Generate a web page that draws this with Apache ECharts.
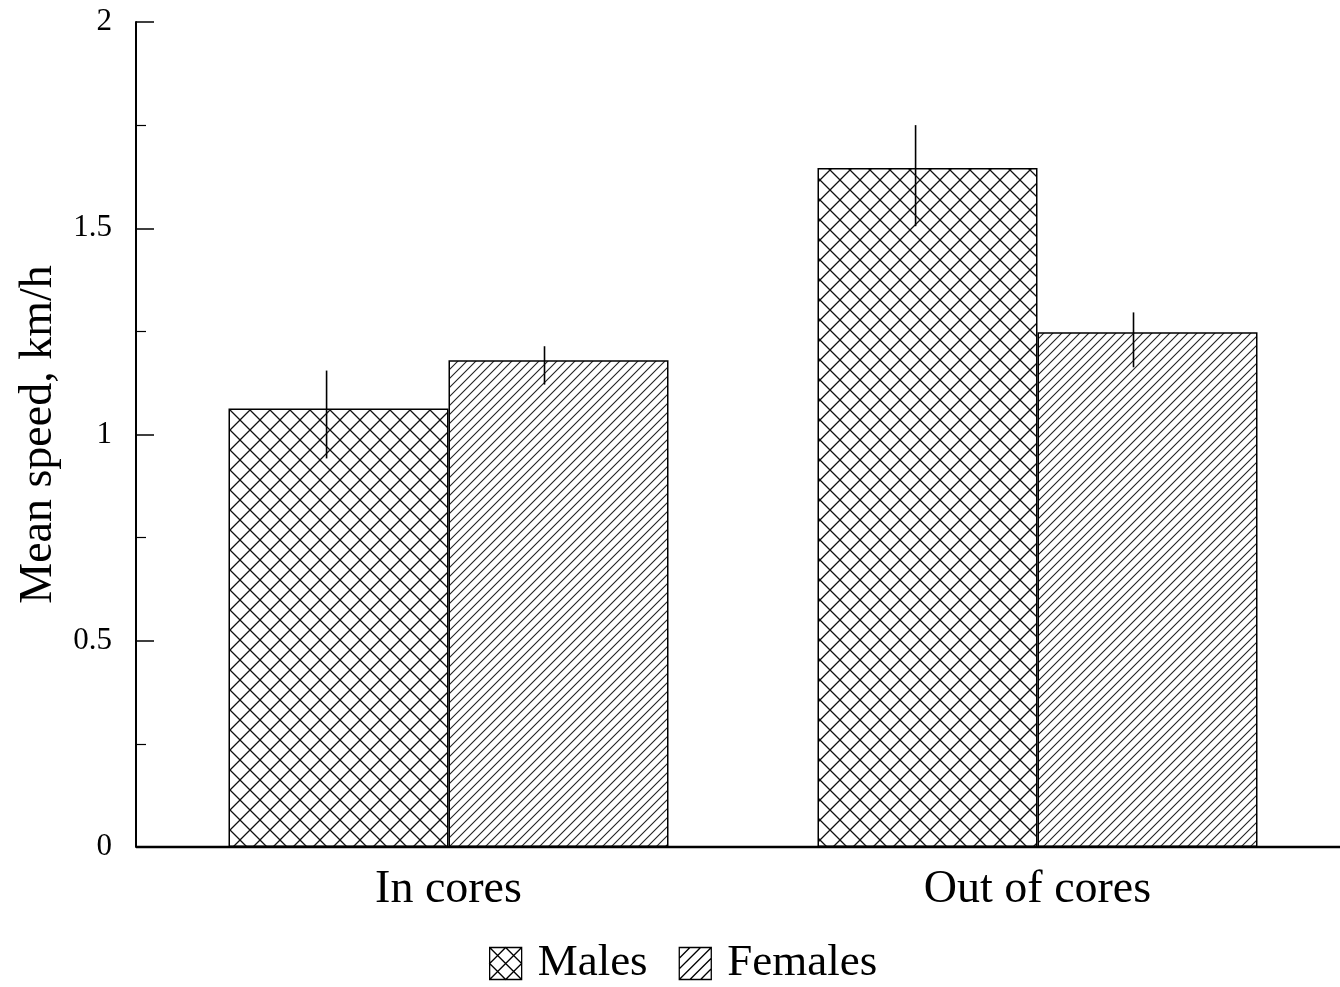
<!DOCTYPE html>
<html>
<head>
<meta charset="utf-8">
<script src="https://cdn.jsdelivr.net/npm/echarts@6/dist/echarts.min.js"></script>
<style>
html,body{margin:0;padding:0;background:#fff;}
#chart{width:1340px;height:987px;}
</style>
</head>
<body>
<div id="chart"></div>
<script>
// ---- data ----
var categories = ['In cores', 'Out of cores'];
var seriesNames = ['Males', 'Females'];
var malesValues = [1.063, 1.646];
var femalesValues = [1.180, 1.248];
var malesErrLow = [0.942, 1.505];
var malesErrHigh = [1.155, 1.750];
var femalesErrLow = [1.121, 1.163];
var femalesErrHigh = [1.214, 1.296];
var yTicks = [0, 0.5, 1, 1.5, 2];

// ---- patterns ----
function crossPattern(p, lw) {
  var c = document.createElement('canvas');
  c.width = p; c.height = p;
  var g = c.getContext('2d');
  g.fillStyle = '#fff'; g.fillRect(0, 0, p, p);
  g.strokeStyle = '#111'; g.lineWidth = lw;
  g.beginPath();
  g.moveTo(0, 0); g.lineTo(p, p);
  g.moveTo(0, p); g.lineTo(p, 0);
  g.stroke();
  return {image: c, repeat: 'repeat'};
}
function diagPattern(p, lw) {
  var c = document.createElement('canvas');
  c.width = p; c.height = p;
  var g = c.getContext('2d');
  g.fillStyle = '#fff'; g.fillRect(0, 0, p, p);
  g.strokeStyle = '#222'; g.lineWidth = lw;
  g.beginPath();
  g.moveTo(-1, p + 1); g.lineTo(p + 1, -1);
  g.moveTo(-1, 1); g.lineTo(1, -1);
  g.moveTo(p - 1, p + 1); g.lineTo(p + 1, p - 1);
  g.stroke();
  return {image: c, repeat: 'repeat'};
}

var malesPat = crossPattern(20, 1.3);
var femalesPat = diagPattern(9, 1.1);

var malesIcon = 'path://M0,0H32V32H0Z M0,0L32,32 M32,0L0,32 M16,0L32,16L16,32L0,16Z';
var femalesIcon = 'path://M0,0H32V32H0Z M0,10.67L10.67,0 M0,21.33L21.33,0 M0,32L32,0 M10.67,32L32,10.67 M21.33,32L32,21.33';

var font = 'Liberation Serif';

function errSeries(low, high, frac) {
  return {
    type: 'custom',
    name: 'err',
    z: 10,
    silent: true,
    encode: {x: 0, y: [1, 2]},
    data: categories.map(function (c, i) { return [i, low[i], high[i]]; }),
    renderItem: function (params, api) {
      var lo = api.coord([api.value(0), api.value(1)]);
      var hi = api.coord([api.value(0), api.value(2)]);
      var band = api.size([1, 0])[0];
      var x = lo[0] + frac * band;
      return {
        type: 'line',
        shape: {x1: x, y1: lo[1], x2: x, y2: hi[1]},
        style: {stroke: '#000', lineWidth: 1.6}
      };
    }
  };
}

var chart = echarts.init(document.getElementById('chart'), null, {renderer: 'canvas'});
var option = {
  backgroundColor: '#fff',
  animation: false,
  grid: {left: 154, right: 8, top: 22, bottom: 140, containLabel: false},
  legend: {
    left: 484, top: 936,
    itemWidth: 32, itemHeight: 32, itemGap: 31,
    textStyle: {fontFamily: font, fontSize: 45, color: '#000', padding: [0, 0, 0, 11]},
    data: [
      {name: 'Males', icon: malesIcon, itemStyle: {color: '#fff', borderColor: '#000', borderWidth: 1.3}},
      {name: 'Females', icon: femalesIcon, itemStyle: {color: '#fff', borderColor: '#000', borderWidth: 1.3}}
    ]
  },
  xAxis: {
    type: 'category',
    data: categories,
    axisLine: {show: false},
    axisTick: {show: false},
    axisLabel: {fontFamily: font, fontSize: 46, color: '#000', margin: 20},
    splitLine: {show: false}
  },
  yAxis: {
    type: 'value',
    min: 0, max: 2, interval: 0.5,
    offset: 18,
    name: 'Mean speed, km/h',
    nameLocation: 'middle',
    nameGap: 74,
    nameTextStyle: {fontFamily: font, fontSize: 46, color: '#000'},
    axisLine: {show: true, lineStyle: {color: '#000', width: 2}},
    axisTick: {show: true, inside: true, length: 18, lineStyle: {color: '#000', width: 1.5}},
    minorTick: {show: true, splitNumber: 2, length: 10, lineStyle: {color: '#000', width: 1.2}},
    axisLabel: {
      fontFamily: font, fontSize: 31, color: '#000', margin: 24,
      formatter: function (v) { return yTicks.indexOf(v) >= 0 ? String(v) : ''; }
    },
    splitLine: {show: false}
  },
  series: [
    {
      name: 'Males', type: 'bar', data: malesValues,
      barWidth: 220, barGap: '0%',
      itemStyle: {color: malesPat, borderColor: '#000', borderWidth: 1.5}
    },
    {
      name: 'Females', type: 'bar', data: femalesValues,
      barWidth: 220, barGap: '0%',
      itemStyle: {color: femalesPat, borderColor: '#000', borderWidth: 1.5}
    },
    errSeries(malesErrLow, malesErrHigh, -0.207),
    errSeries(femalesErrLow, femalesErrHigh, 0.163)
  ]
};
chart.setOption(option);

// baseline (x axis line) spanning from the y-axis to the right edge
var y0 = chart.convertToPixel({yAxisIndex: 0}, 0);
chart.setOption({
  graphic: [{
    type: 'line', z: 20,
    shape: {x1: 136, y1: y0, x2: 1340, y2: y0},
    style: {stroke: '#000', lineWidth: 2.5}
  }]
});
</script>
</body>
</html>
